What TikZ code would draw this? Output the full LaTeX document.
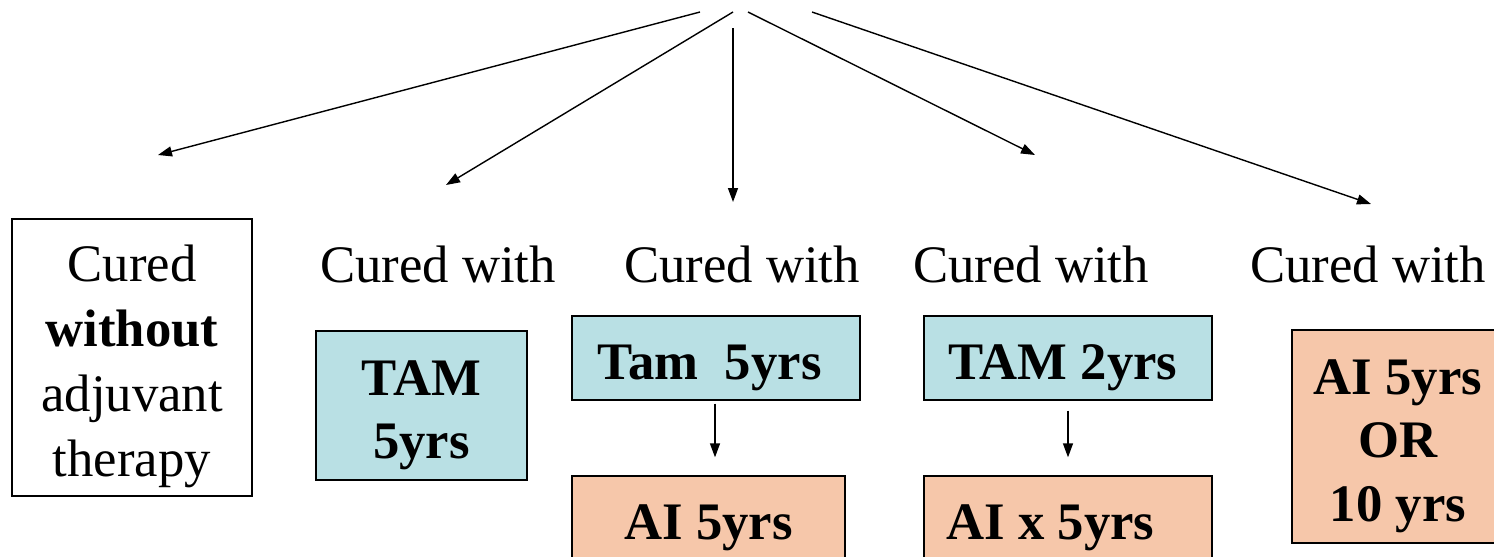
\documentclass[tikz,border=0pt]{standalone}
\usepackage{fontspec}
\setmainfont{Liberation Serif}
\usetikzlibrary{arrows.meta, positioning}
\definecolor{tamBlue}{RGB}{185,224,228}
\definecolor{aiPeach}{RGB}{246,199,170}
\newcommand{\lowstrut}{\rule{0pt}{1.08cm}}

\begin{document}
\begin{tikzpicture}[
    x=0.02cm, y=-0.02cm,
    every node/.style={font=\fontsize{30}{37}\selectfont},
    box/.style={rectangle, draw, line width=0.8pt, align=center, inner sep=0pt},
    tam/.style={box, fill=tamBlue, font=\fontsize{30}{36}\selectfont\bfseries},
    ai/.style={box, fill=aiPeach, font=\fontsize{30}{36}\selectfont\bfseries},
    cured/.style={align=center, inner sep=0pt},
    arrow/.style={-{Triangle[length=0.28cm, width=0.2cm]}, line width=0.8pt}
]
\useasboundingbox (0,0) rectangle (1494,556);

% Outcomes
\node[box, minimum width=4.8cm, minimum height=5.54cm] (noTherapy) at (132,357.5)
    {\lowstrut Cured\\\textbf{without}\\adjuvant\\therapy};
\node[cured] (curedTam) at (438,264) {Cured with};
\node[cured] (curedSwitch) at (742,264) {Cured with};
\node[cured] (curedEarly) at (1031,264) {Cured with};
\node[cured] (curedAi) at (1368,264) {Cured with};

% Treatments
\node[tam, minimum width=4.22cm, minimum height=2.98cm] (tamFive) at (421.5,405.5) {\lowstrut TAM\\5yrs};
\node[tam, minimum width=5.76cm, minimum height=1.68cm] (tamSeq) at (716,358) {\lowstrut Tam~~5yrs\hspace{0.25cm}};
\node[ai, minimum width=5.46cm, minimum height=1.68cm] (aiSeq) at (708.5,518) {\lowstrut AI 5yrs};
\node[tam, minimum width=5.76cm, minimum height=1.68cm] (tamTwo) at (1068,358) {\lowstrut TAM 2yrs\hspace{0.2cm}};
\node[ai, minimum width=5.76cm, minimum height=1.68cm] (aiSwitch) at (1068,518) {\lowstrut AI x 5yrs\hspace{0.7cm}};
\node[ai, minimum width=4.24cm, minimum height=4.26cm] (aiOnly) at (1398,436.5) {\lowstrut AI 5yrs\\OR\\10 yrs};

% Branch arrows
\coordinate (srcA) at (700,12);
\coordinate (srcB) at (733,12);
\coordinate (srcC) at (733,28);
\coordinate (srcD) at (748,12);
\coordinate (srcE) at (812,12);
\coordinate (endA) at (158,155);
\coordinate (endB) at (446,185);
\coordinate (endC) at (733,202);
\coordinate (endD) at (1035,155);
\coordinate (endE) at (1371,204);

\draw[arrow] (srcA) -- (endA);
\draw[arrow] (srcB) -- (endB);
\draw[arrow] (srcC) -- (endC);
\draw[arrow] (srcD) -- (endD);
\draw[arrow] (srcE) -- (endE);

% Sequences
\draw[arrow, shorten <=0.06cm, shorten >=0.36cm] ([xshift=-0.02cm]tamSeq.south) -- ([xshift=-0.02cm]tamSeq.south |- aiSeq.north);
\draw[arrow, shorten <=0.2cm, shorten >=0.36cm] (tamTwo.south) -- (aiSwitch.north);

\end{tikzpicture}
\end{document}
